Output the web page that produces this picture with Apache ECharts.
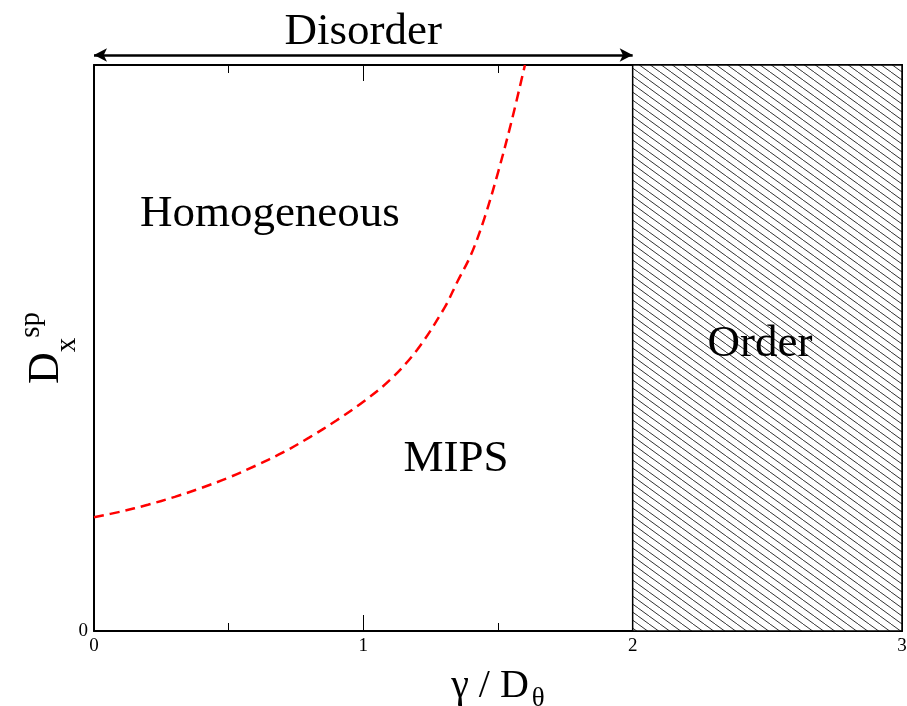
<!DOCTYPE html>
<html>
<head>
<meta charset="utf-8">
<script src="https://cdn.jsdelivr.net/npm/echarts@6/dist/echarts.min.js"></script>
<style>
html,body{margin:0;padding:0;background:#fff;}
#chart{width:907px;height:706px;}
</style>
</head>
<body>
<div id="chart"></div>
<script>
// ---- data ----
const xTicks = [0, 1, 2, 3];
const boundaryX = [0, 0.1, 0.2, 0.3, 0.4, 0.5, 0.6, 0.7, 0.8, 0.9, 1.0, 1.1, 1.2, 1.3, 1.35, 1.4, 1.45, 1.5, 1.55, 1.6];
const boundaryY = [0.201, 0.211, 0.223, 0.237, 0.253, 0.271, 0.292, 0.315, 0.342, 0.372, 0.405, 0.444, 0.497, 0.570, 0.618, 0.665, 0.730, 0.810, 0.900, 1.0];
const orderRange = [2, 3];
const disorderRange = [0, 2];
const disorderArrowY = 0.154;   // in the strip above the plot (0..1)
const regionNames = ['Homogeneous', 'MIPS', 'Order'];
const regionX = [0.653, 1.344, 2.473];
const regionY = [0.737, 0.303, 0.506];

// ---- hatch pattern ----
function makeHatch() {
  const w = 11, h = 8;
  const c = document.createElement('canvas');
  c.width = w; c.height = h;
  const ctx = c.getContext('2d');
  ctx.fillStyle = '#fff';
  ctx.fillRect(0, 0, w, h);
  ctx.strokeStyle = '#333';
  ctx.lineWidth = 1;
  ctx.beginPath();
  for (let k = -1; k <= 1; k++) {
    ctx.moveTo(k * w, 0);
    ctx.lineTo(k * w + w, h);
  }
  ctx.stroke();
  return c;
}

const FONT = '"Liberation Serif", "Times New Roman", serif';
const chart = echarts.init(document.getElementById('chart'), null, {renderer: 'canvas'});

const tickStyle = {show: true, inside: true, length: 16, lineStyle: {color: '#000', width: 1}};
const minorStyle = {show: true, splitNumber: 2, length: 8, lineStyle: {color: '#000', width: 1}};

chart.setOption({
  animation: false,
  backgroundColor: '#fff',
  grid: [
    {left: 94, right: 5, top: 65, bottom: 75, show: false, outerBoundsMode: 'none', containLabel: false},
    {left: 94, right: 5, top: 0, height: 65, show: false, outerBoundsMode: 'none', containLabel: false}
  ],
  xAxis: [
    {
      gridIndex: 0, type: 'value', min: 0, max: 3, interval: 1, position: 'bottom',
      axisLine: {show: true, onZero: false, lineStyle: {color: '#000', width: 2}},
      splitLine: {show: false},
      axisTick: tickStyle,
      minorTick: minorStyle,
      axisLabel: {show: true, color: '#000', fontFamily: FONT, fontSize: 19, margin: 6,
        formatter: v => xTicks.indexOf(v) >= 0 ? String(v) : ''},
      name: '{g|γ / D}{s|θ}',
      nameLocation: 'middle',
      nameGap: 30,
      nameTextStyle: {
        color: '#000', fontFamily: FONT, fontSize: 40,
        rich: {
          g: {fontFamily: FONT, fontSize: 40, color: '#000'},
          s: {fontFamily: FONT, fontSize: 27, color: '#000', padding: [24, 0, 0, 3]}
        }
      }
    },
    {
      gridIndex: 0, type: 'value', min: 0, max: 3, interval: 1, position: 'top',
      axisLine: {show: true, onZero: false, lineStyle: {color: '#000', width: 2}},
      splitLine: {show: false},
      axisTick: tickStyle,
      minorTick: minorStyle,
      axisLabel: {show: false}
    },
    {
      gridIndex: 1, type: 'value', min: 0, max: 3, show: false
    }
  ],
  yAxis: [
    {
      gridIndex: 0, type: 'value', min: 0, max: 1, interval: 1, position: 'left',
      axisLine: {show: true, onZero: false, lineStyle: {color: '#000', width: 2}},
      axisTick: {show: false},
      splitLine: {show: false},
      axisLabel: {color: '#000', fontFamily: FONT, fontSize: 19, margin: 6,
        formatter: v => v === 0 ? '0' : ''},
      name: '{d|D}{b|x}{t|sp}',
      nameLocation: 'middle',
      nameRotate: 90,
      nameGap: 12,
      nameMoveOverlap: false,
      nameTextStyle: {
        color: '#000', fontFamily: FONT, fontSize: 44,
        rich: {
          d: {fontFamily: FONT, fontSize: 44, color: '#000'},
          b: {fontFamily: FONT, fontSize: 29, color: '#000', padding: [42, 0, 0, 0]},
          t: {fontFamily: FONT, fontSize: 29, color: '#000', padding: [0, 0, 30, 0]}
        }
      }
    },
    {
      gridIndex: 0, type: 'value', min: 0, max: 1, interval: 1, position: 'right',
      axisLine: {show: true, onZero: false, lineStyle: {color: '#000', width: 2}},
      axisTick: {show: false}, axisLabel: {show: false}, splitLine: {show: false}
    },
    {
      gridIndex: 1, type: 'value', min: 0, max: 1, show: false
    }
  ],
  series: [
    {
      name: 'frame',
      type: 'line',
      xAxisIndex: 1, yAxisIndex: 1,
      data: [],
      silent: true
    },
    {
      name: 'order',
      type: 'line',
      xAxisIndex: 0, yAxisIndex: 0,
      data: [],
      silent: true,
      markArea: {
        silent: true,
        itemStyle: {color: {image: makeHatch(), repeat: 'repeat'}, borderColor: '#000', borderWidth: 1.5},
        label: {show: false},
        data: [[{xAxis: orderRange[0], yAxis: 0}, {xAxis: orderRange[1], yAxis: 1}]]
      }
    },
    {
      name: 'boundary',
      type: 'line',
      xAxisIndex: 0, yAxisIndex: 0,
      data: boundaryX.map((x, i) => [x, boundaryY[i]]),
      smooth: 0.35,
      showSymbol: false,
      symbol: 'none',
      clip: false,
      lineStyle: {color: '#ff0000', width: 2.5, type: [10, 6]},
      z: 5
    },
    {
      name: 'labels',
      type: 'scatter',
      xAxisIndex: 0, yAxisIndex: 0,
      symbolSize: 0,
      itemStyle: {opacity: 1},
      data: regionNames.map((n, i) => ({name: n, value: [regionX[i], regionY[i]]})),
      label: {show: true, position: 'inside', formatter: p => p.name, color: '#000',
        fontFamily: FONT, fontSize: 45, textBorderWidth: 0, opacity: 1},
      z: 10
    },
    {
      name: 'disorder',
      type: 'line',
      xAxisIndex: 2, yAxisIndex: 2,
      data: [],
      clip: false,
      markLine: {
        silent: true,
        symbol: ['arrow', 'arrow'],
        symbolSize: [10, 13],
        lineStyle: {color: '#000', width: 2.5, type: 'solid', opacity: 1},
        label: {show: true, position: 'insideMiddleTop', formatter: 'Disorder', color: '#000',
          fontFamily: FONT, fontSize: 45, distance: 0},
        data: [[{coord: [disorderRange[0], disorderArrowY]}, {coord: [disorderRange[1], disorderArrowY]}]]
      }
    }
  ]
});
</script>
</body>
</html>
